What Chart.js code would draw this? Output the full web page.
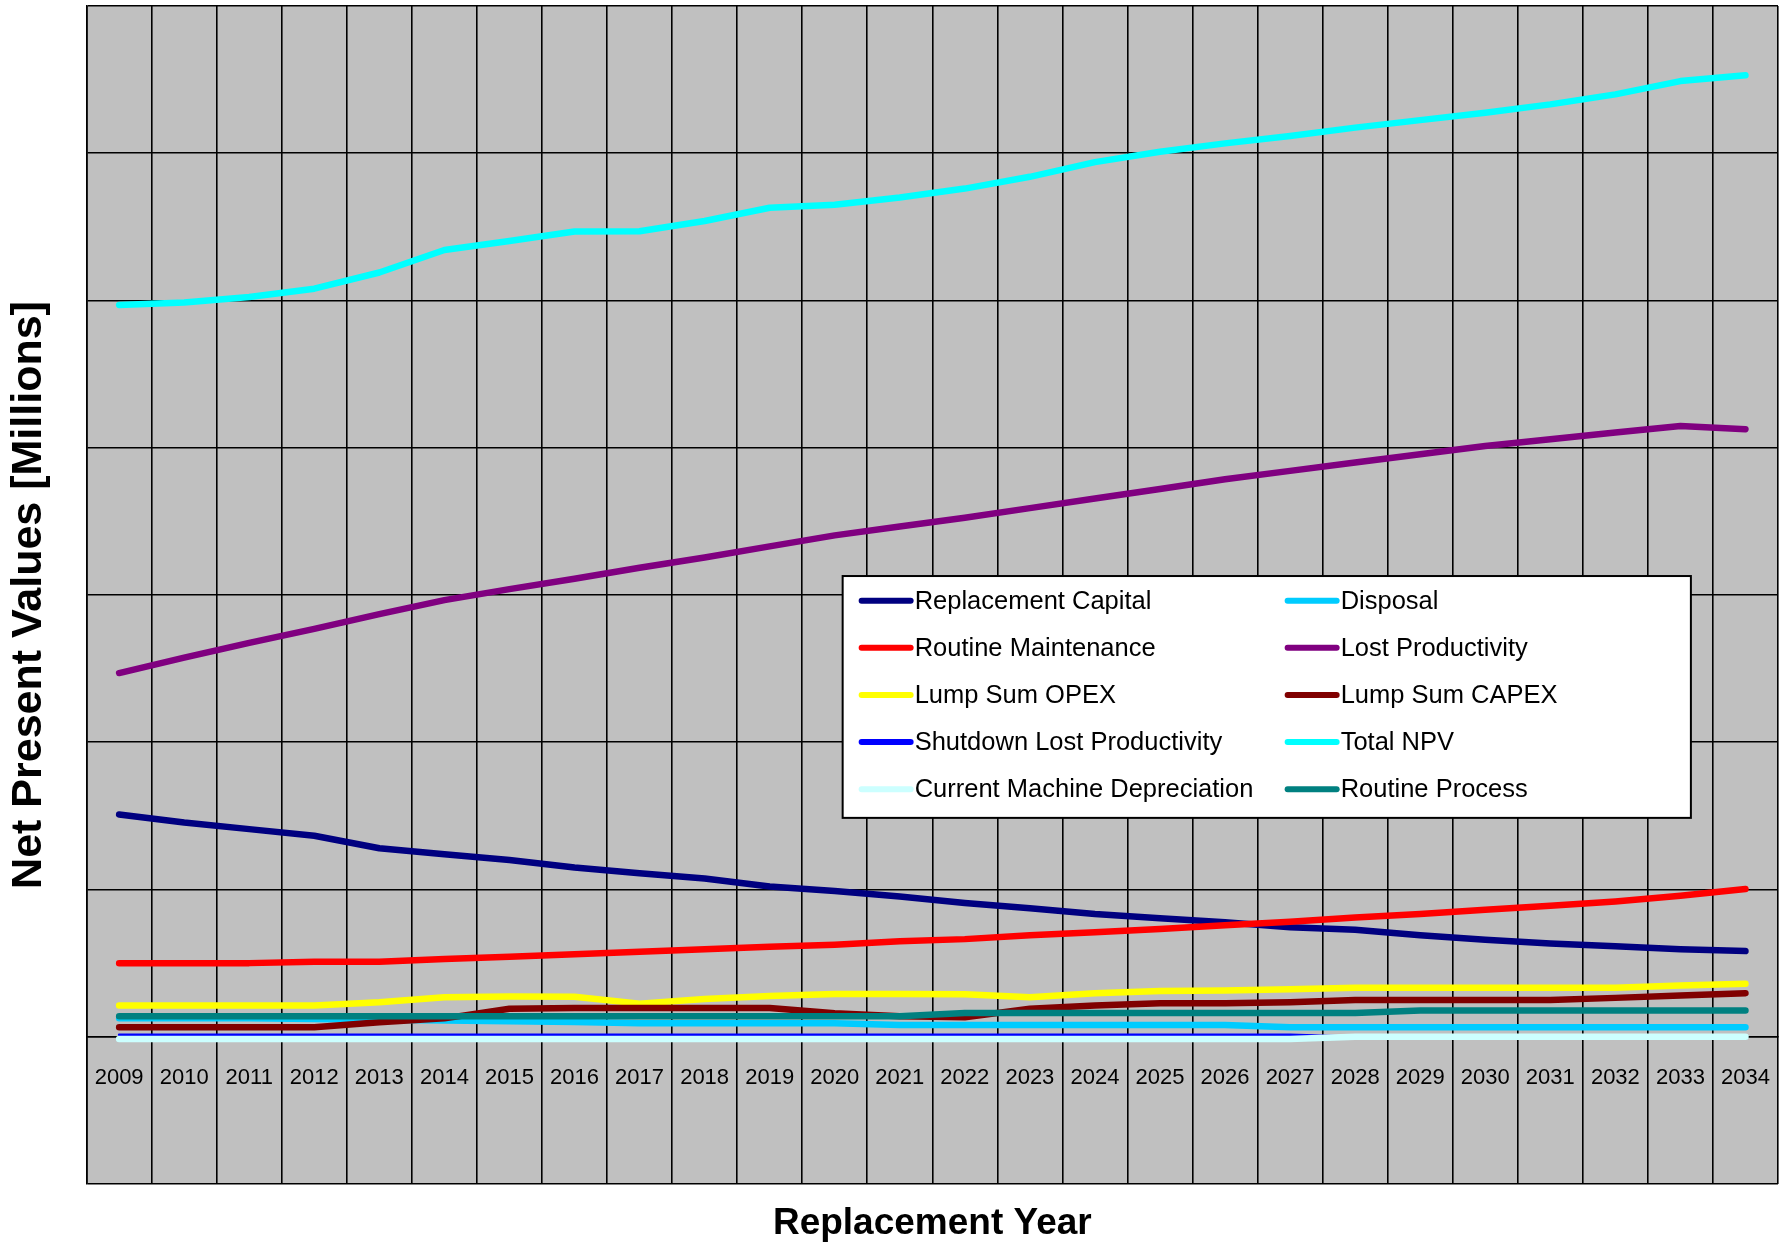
<!DOCTYPE html>
<html><head><meta charset="utf-8">
<script src="https://cdn.jsdelivr.net/npm/chart.js@4.4.1/dist/chart.umd.min.js"></script>
<style>html,body{margin:0;padding:0;background:#fff}canvas{display:block}</style>
</head><body>
<canvas id="c" width="1790" height="1245"></canvas>
<script>
// ---- data ----
const years = ['2009','2010','2011','2012','2013','2014','2015','2016','2017','2018','2019','2020','2021',
  '2022','2023','2024','2025','2026','2027','2028','2029','2030','2031','2032','2033','2034'];

const seriesNames = ['Replacement Capital','Disposal','Routine Maintenance','Lost Productivity','Lump Sum OPEX',
  'Lump Sum CAPEX','Shutdown Lost Productivity','Total NPV','Current Machine Depreciation','Routine Process'];
const seriesColors = ['#000080','#00CCFF','#FF0000','#800080','#FFFF00','#800000','#0000FF','#00FFFF','#CCFFFF','#008080'];

const replacementCapital = [1.51,1.455,1.41,1.365,1.28,1.24,1.20,1.15,1.11,1.075,1.02,0.99,0.953,0.908,0.872,0.833,0.804,0.777,0.743,0.726,0.69,0.659,0.634,0.614,0.595,0.582];
const disposal = [0.125,0.125,0.125,0.12,0.115,0.11,0.105,0.1,0.092,0.092,0.092,0.092,0.08,0.08,0.08,0.08,0.08,0.08,0.064,0.064,0.064,0.064,0.064,0.064,0.064,0.064];
const routineMaintenance = [0.50,0.50,0.50,0.51,0.51,0.528,0.543,0.561,0.577,0.595,0.611,0.625,0.648,0.663,0.69,0.709,0.731,0.758,0.781,0.81,0.833,0.862,0.889,0.919,0.957,1.003];
const lostProductivity = [2.47,2.575,2.675,2.77,2.87,2.965,3.04,3.11,3.185,3.255,3.33,3.405,3.465,3.525,3.59,3.655,3.72,3.786,3.843,3.90,3.956,4.012,4.058,4.103,4.148,4.126];
const lumpSumOpex = [0.212,0.212,0.212,0.212,0.235,0.268,0.274,0.272,0.225,0.257,0.276,0.29,0.29,0.288,0.268,0.295,0.31,0.314,0.322,0.332,0.332,0.332,0.332,0.332,0.348,0.36];
const lumpSumCapex = [0.065,0.065,0.065,0.065,0.098,0.125,0.19,0.196,0.196,0.196,0.196,0.16,0.14,0.133,0.19,0.212,0.228,0.228,0.235,0.25,0.25,0.25,0.25,0.264,0.28,0.296];
const shutdownLostProductivity = [0.013,0.013,0.013,0.013,0.013,0.013,0.013,0.013,0.013,0.013,0.013,0.013,0.013,0.013,0.013,0.013,0.013,0.013,0.013,0,0,0,0,0,0,0];
const totalNpv = [4.97,4.986,5.024,5.08,5.19,5.343,5.404,5.468,5.47,5.54,5.63,5.65,5.70,5.76,5.84,5.94,6.01,6.067,6.117,6.174,6.225,6.275,6.332,6.40,6.49,6.529];
const currentMachineDepreciation = [-0.015,-0.015,-0.015,-0.015,-0.015,-0.015,-0.015,-0.015,-0.015,-0.015,-0.015,-0.015,-0.015,-0.015,-0.015,-0.015,-0.015,-0.015,-0.015,0,0,0,0,0,0,0];
const routineProcess = [0.14,0.14,0.14,0.14,0.14,0.14,0.14,0.14,0.14,0.14,0.14,0.14,0.14,0.162,0.162,0.162,0.162,0.162,0.162,0.162,0.178,0.178,0.178,0.178,0.178,0.178];

const seriesValues = [replacementCapital, disposal, routineMaintenance, lostProductivity, lumpSumOpex,
  lumpSumCapex, shutdownLostProductivity, totalNpv, currentMachineDepreciation, routineProcess];

const yMin = -1, yMax = 7, yStep = 1;

// ---- font detection ----
function hasFont(name) {
  const c = document.createElement('canvas').getContext('2d');
  const s = 'Replacement Capital 2009';
  c.font = '40px monospace'; const a = c.measureText(s).width;
  c.font = '40px "' + name + '", monospace'; const b = c.measureText(s).width;
  c.font = '40px serif'; const a2 = c.measureText(s).width;
  c.font = '40px "' + name + '", serif'; const b2 = c.measureText(s).width;
  return a !== b || a2 !== b2;
}
const narrow = hasFont('Liberation Sans Narrow') ? 'Liberation Sans Narrow' : null;
const baseFam = '"Liberation Sans", Arial, sans-serif';
const narrowFam = narrow ? '"Liberation Sans Narrow", "Liberation Sans", sans-serif' : baseFam;
const tickSize = narrow ? 26 : 22;
const legendSize = narrow ? 31 : 25.5;
const xTitleSize = narrow ? 44 : 37;

// ---- plugins ----
const bgPlugin = {
  id: 'bg',
  beforeDraw(chart) {
    const {ctx, chartArea: a} = chart;
    ctx.save();
    ctx.fillStyle = '#ffffff';
    ctx.fillRect(0, 0, chart.width, chart.height);
    ctx.fillStyle = '#C0C0C0';
    ctx.fillRect(a.left, a.top, a.right - a.left, a.bottom - a.top);
    ctx.restore();
  }
};

const boxLegend = {
  id: 'boxLegend',
  afterDraw(chart) {
    const {ctx, chartArea: a} = chart;
    const w = a.right - a.left, h = a.bottom - a.top;
    const L = a.left + 0.447 * w, R = a.left + 0.9485 * w;
    const T = a.top + 0.4839 * h, B = a.top + 0.6892 * h;
    ctx.save();
    ctx.fillStyle = '#ffffff';
    ctx.fillRect(L, T, R - L, B - T);
    ctx.strokeStyle = '#000';
    ctx.lineWidth = 2;
    ctx.strokeRect(L, T, R - L, B - T);
    const rowH = (B - T) * 0.1948, row0 = (B - T) * 0.102;
    const cols = [{s: 19, e: 68, t: 72}, {s: 445, e: 494, t: 498}];
    ctx.font = legendSize + 'px ' + narrowFam;
    ctx.textBaseline = 'middle';
    ctx.textAlign = 'left';
    chart.data.datasets.forEach((ds, i) => {
      const r = Math.floor(i / 2), c = cols[i % 2];
      const y = T + row0 + r * rowH;
      ctx.strokeStyle = ds.borderColor;
      ctx.lineWidth = 6;
      ctx.lineCap = 'round';
      ctx.beginPath();
      ctx.moveTo(L + c.s, y); ctx.lineTo(L + c.e, y);
      ctx.stroke();
      ctx.fillStyle = '#000';
      ctx.fillText(ds.label, L + c.t, y + 1);
    });
    ctx.restore();
  }
};

const datasets = seriesNames.map((name, i) => ({
  label: name,
  data: seriesValues[i],
  borderColor: seriesColors[i],
  backgroundColor: seriesColors[i],
  borderWidth: name === 'Shutdown Lost Productivity' ? 2.5 : 6.5,
  pointRadius: 0,
  tension: 0,
  fill: false,
  borderCapStyle: 'round',
  borderJoinStyle: 'round',
  order: seriesNames.length - i
}));

new Chart(document.getElementById('c'), {
  type: 'line',
  data: { labels: years, datasets },
  options: {
    responsive: false,
    animation: false,
    devicePixelRatio: 1,
    layout: { padding: { left: 0, right: 12, top: 6, bottom: 0 } },
    plugins: {
      legend: { display: false },
      tooltip: { enabled: false },
      title: {
        display: true, text: 'Replacement Year', position: 'bottom', fullSize: false,
        color: '#000',
        font: { family: narrowFam, size: xTitleSize, weight: 'bold', lineHeight: 1 },
        padding: narrow ? { top: 16, bottom: 1 } : { top: 21, bottom: 3 }
      }
    },
    scales: {
      x: {
        type: 'category',
        position: { y: 0 },
        offset: true,
        grid: { offset: true, color: '#000', lineWidth: 1.6, drawTicks: true, tickLength: 28, tickColor: 'rgba(0,0,0,0)' },
        border: { display: true, color: '#000', width: 1.6 },
        ticks: { color: '#000', font: { family: narrowFam, size: tickSize }, padding: 0, maxRotation: 0, autoSkip: false }
      },
      y: {
        min: yMin, max: yMax,
        ticks: { stepSize: yStep, display: false },
        grid: { color: '#000', lineWidth: 1.6, drawTicks: false },
        border: { display: true, color: '#000', width: 1.6 },
        title: {
          display: true, text: 'Net Present Values [Millions]', color: '#000',
          font: { family: baseFam, size: 43, weight: 'bold', lineHeight: 1.2 },
          padding: { top: 3, bottom: 32 }
        }
      }
    }
  },
  plugins: [bgPlugin, boxLegend]
});
</script>
</body></html>
